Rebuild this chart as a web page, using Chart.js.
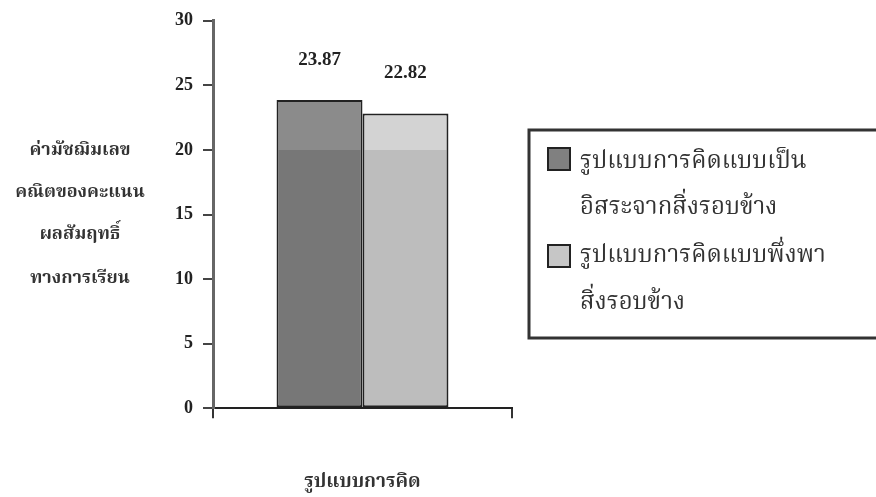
<!DOCTYPE html>
<html>
<head>
<meta charset="utf-8">
<script src="https://cdn.jsdelivr.net/npm/chart.js@4.4.1/dist/chart.umd.min.js"></script>
<style>
  html, body { margin: 0; padding: 0; background: #ffffff; }
  #wrap { width: 876px; height: 497px; position: relative; }
</style>
</head>
<body>
<div id="wrap"><canvas id="chart" width="876" height="497"></canvas></div>
<script>
// Category and series
const categories = ['รูปแบบการคิด'];
const seriesNames = [
  ['รูปแบบการคิดแบบเป็น', 'อิสระจากสิ่งรอบข้าง'],
  ['รูปแบบการคิดแบบพึ่งพา', 'สิ่งรอบข้าง']
];
const independentValues = [23.87];
const dependentValues = [22.82];
const yTitleLines = ['ค่ามัชฌิมเลข', 'คณิตของคะแนน', 'ผลสัมฤทธิ์', 'ทางการเรียน'];
const yTicks = [0, 5, 10, 15, 20, 25, 30];

const serifBold = { family: '"Liberation Serif", "DejaVu Serif", serif', size: 18, weight: 'bold' };
const thaiFamily = '"Noto Serif Thai", "Noto Sans Thai Looped", "Noto Sans Thai", Loma, Garuda, Sarabun, "DejaVu Sans", sans-serif';

// Two-tone fill: lighter above the 20 line, darker below it
function twoTone(upper, lower) {
  return function (ctx) {
    const chart = ctx.chart;
    const area = chart.chartArea;
    if (!area || !chart.scales.y) return lower;
    const y20 = chart.scales.y.getPixelForValue(20);
    const g = chart.ctx.createLinearGradient(0, area.top, 0, area.bottom);
    const t = Math.min(1, Math.max(0, (y20 - area.top) / (area.bottom - area.top)));
    g.addColorStop(0, upper);
    g.addColorStop(t, upper);
    g.addColorStop(Math.min(1, t + 0.001), lower);
    g.addColorStop(1, lower);
    return g;
  };
}

// Value labels above each bar
const valueLabels = {
  id: 'valueLabels',
  afterDatasetsDraw(chart) {
    const c = chart.ctx;
    c.save();
    c.font = 'bold 19px "Liberation Serif", serif';
    c.fillStyle = '#222';
    c.textAlign = 'center';
    c.textBaseline = 'middle';
    chart.data.datasets.forEach((ds, i) => {
      chart.getDatasetMeta(i).data.forEach((bar, j) => {
        c.fillText(ds.data[j].toFixed(2), bar.x, bar.y - 40);
      });
    });
    c.restore();
  }
};

// Horizontal multi-line y-axis caption
const yCaption = {
  id: 'yCaption',
  afterDraw(chart) {
    const c = chart.ctx;
    c.save();
    c.font = 'bold 18px ' + thaiFamily;
    c.fillStyle = '#333';
    c.textAlign = 'center';
    c.textBaseline = 'middle';
    const ys = [152, 194, 236, 280];
    yTitleLines.forEach((s, i) => c.fillText(s, 80, ys[i]));
    c.restore();
  }
};

// Boxed legend with wrapped labels
const boxLegend = {
  id: 'boxLegend',
  afterDraw(chart) {
    const c = chart.ctx;
    c.save();
    c.strokeStyle = '#333';
    c.lineWidth = 3;
    c.strokeRect(529, 130, 400, 208);
    const rows = [{ sy: 148, ty: [164, 210] }, { sy: 245, ty: [258, 305] }];
    c.font = '24px ' + thaiFamily;
    c.textBaseline = 'middle';
    c.textAlign = 'left';
    chart.data.datasets.forEach((ds, i) => {
      const r = rows[i];
      c.fillStyle = ds.legendColor;
      c.fillRect(548, r.sy, 22, 22);
      c.lineWidth = 2;
      c.strokeStyle = '#222';
      c.strokeRect(548, r.sy, 22, 22);
      c.fillStyle = '#333';
      seriesNames[i].forEach((line, k) => c.fillText(line, 580, r.ty[k]));
    });
    c.restore();
  }
};

new Chart(document.getElementById('chart'), {
  type: 'bar',
  data: {
    labels: categories,
    datasets: [
      {
        label: seriesNames[0].join(''),
        data: independentValues,
        backgroundColor: twoTone('#8b8b8b', '#777777'),
        legendColor: '#808080',
        borderColor: '#222222',
        borderWidth: 2,
        borderSkipped: false
      },
      {
        label: seriesNames[1].join(''),
        data: dependentValues,
        backgroundColor: twoTone('#d3d3d3', '#bdbdbd'),
        legendColor: '#c6c6c6',
        borderColor: '#222222',
        borderWidth: 2,
        borderSkipped: false
      }
    ]
  },
  options: {
    responsive: false,
    animation: false,
    layout: { padding: { left: 173, right: 364, top: 20, bottom: 0 } },
    datasets: { bar: { categoryPercentage: 0.575, barPercentage: 1 } },
    plugins: { legend: { display: false }, tooltip: { enabled: false } },
    scales: {
      x: {
        grid: { display: true, drawOnChartArea: false, drawTicks: true, tickLength: 10, color: '#333', lineWidth: 2, offset: true },
        border: { display: true, color: '#222', width: 2 },
        ticks: { display: false },
        title: {
          display: true,
          text: categories[0],
          font: { family: thaiFamily, size: 19, weight: 'bold' },
          color: '#333',
          padding: { top: 54, bottom: 2 }
        }
      },
      y: {
        min: 0,
        max: 30,
        afterFit(s) { s.width = 40; },
        afterBuildTicks(s) { s.ticks = yTicks.map(v => ({ value: v })); },
        grid: { display: true, drawOnChartArea: false, drawTicks: true, tickLength: 10, color: '#444', lineWidth: 2 },
        border: { display: true, color: '#666', width: 3 },
        ticks: { font: serifBold, color: '#222', padding: 10 }
      }
    }
  },
  plugins: [valueLabels, yCaption, boxLegend]
});
</script>
</body>
</html>
